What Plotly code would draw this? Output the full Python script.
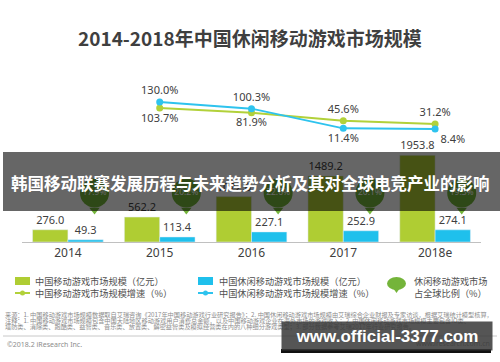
import plotly.graph_objects as go

# ---------------- data ----------------
years = ["2014", "2015", "2016", "2017", "2018e"]
mobile_market = [276.0, 562.2, 1022.6, 1489.2, 1953.8]          # 中国移动游戏市场规模（亿元）
casual_market = [49.3, 113.4, 227.1, 252.9, 274.1]              # 中国休闲移动游戏市场规模（亿元）
growth_years = ["2015", "2016", "2017", "2018e"]
mobile_growth = [103.7, 81.9, 45.6, 31.2]                        # 中国移动游戏市场规模增速（%）
casual_growth = [130.0, 100.3, 11.4, 8.4]                        # 中国休闲移动游戏市场规模增速（%）
global_share = [17.9, 20.2, 22.6, 20.1, 19.3]                    # 休闲移动游戏市场占全球比例（%）

W, H = 500, 362
GREEN = "#afcd33"
BLUE = "#1fc0ec"
LGREEN = "#b2d13a"
LBLUE = "#2ec3ee"
BUBBLE = "#74b43a"
TXT = "#404040"
FONT = "Noto Sans, Noto Sans CJK SC, sans-serif"
CJK = "Noto Sans CJK SC, Noto Sans, sans-serif"


def px(x):
    return x / W


def py(y):
    return 1 - y / H


idx = list(range(len(years)))
gidx = [years.index(y) for y in growth_years]
bubble_x = [i + 0.29 for i in idx]

fig = go.Figure()

fig.add_trace(go.Bar(
    x=idx, y=mobile_market, marker_color=GREEN, name="中国移动游戏市场规模（亿元）",
    text=[f"{v:.1f}" for v in mobile_market], textposition="outside",
    textfont=dict(size=11, color=TXT, family=FONT), constraintext="none",
    cliponaxis=False, offsetgroup="a"))
fig.add_trace(go.Bar(
    x=idx, y=casual_market, marker_color=BLUE, name="中国休闲移动游戏市场规模（亿元）",
    text=[f"{v:.1f}" for v in casual_market], textposition="outside",
    textfont=dict(size=11, color=TXT, family=FONT), constraintext="none",
    cliponaxis=False, offsetgroup="b"))

# share bubbles (constant vertical band on a helper axis)
fig.add_trace(go.Scatter(
    x=bubble_x, y=[32] * len(idx), yaxis="y3", mode="markers",
    marker=dict(symbol="triangle-down", size=9, color=BUBBLE),
    hoverinfo="skip", cliponaxis=False))
fig.add_trace(go.Scatter(
    x=bubble_x, y=[49] * len(idx), yaxis="y3", mode="markers+text",
    marker=dict(symbol="circle", size=29, color=BUBBLE),
    text=[f"{v:.1f}%" for v in global_share], textposition="middle center",
    textfont=dict(size=8.5, color="white", family=FONT), cliponaxis=False))

fig.add_trace(go.Scatter(
    x=gidx, y=mobile_growth, yaxis="y2", mode="lines+markers+text",
    line=dict(color=LGREEN, width=2), marker=dict(size=7, color=LGREEN),
    text=[f"{v:.1f}%" for v in mobile_growth],
    textposition=["bottom center", "bottom center", "top center", "top center"],
    textfont=dict(size=11, color=TXT, family=FONT), cliponaxis=False))
fig.add_trace(go.Scatter(
    x=gidx, y=casual_growth, yaxis="y2", mode="lines+markers+text",
    line=dict(color=LBLUE, width=2), marker=dict(size=7, color=LBLUE),
    text=[f"{v:.1f}%" for v in casual_growth],
    textposition=["top center", "top center", "bottom center", "bottom right"],
    textfont=dict(size=11, color=TXT, family=FONT), cliponaxis=False))

shapes = []
annotations = []


def note(x, y, text, font, xanchor="left", **kw):
    annotations.append(dict(x=px(x), y=py(y), xref="paper", yref="paper", showarrow=False,
                            xanchor=xanchor, yanchor=kw.pop("yanchor", "middle"),
                            text=text, font=font, **kw))


# title
note(250, 37, "<b>2014-2018年中国休闲移动游戏市场规模</b>",
     dict(size=19, color="#3f3f3f", family=CJK), xanchor="center")

# banner overlay
shapes.append(dict(type="rect", xref="paper", yref="paper", x0=px(3), x1=px(500),
                   y0=py(211), y1=py(152), fillcolor="rgba(0,0,0,0.6)", line=dict(width=0),
                   layer="above"))
note(250, 183, "<b>韩国移动联赛发展历程与未来趋势分析及其对全球电竞产业的影响</b>",
     dict(size=16.5, color="white", family=CJK), xanchor="center")

# legend (manual)
LF = dict(size=9.2, color="#505050", family=CJK)
shapes.append(dict(type="rect", xref="paper", yref="paper", x0=px(15), x1=px(30),
                   y0=py(285), y1=py(277), fillcolor=GREEN, line=dict(width=0)))
note(33, 281, "中国移动游戏市场规模（亿元）", LF)
shapes.append(dict(type="line", xref="paper", yref="paper", x0=px(15), x1=px(30),
                   y0=py(293), y1=py(293), line=dict(color=LGREEN, width=2)))
shapes.append(dict(type="circle", xref="paper", yref="paper", x0=px(20), x1=px(25),
                   y0=py(295.5), y1=py(290.5), fillcolor=LGREEN, line=dict(width=0)))
note(33, 293, "中国移动游戏市场规模增速（%）", LF)

shapes.append(dict(type="rect", xref="paper", yref="paper", x0=px(198), x1=px(213),
                   y0=py(285), y1=py(277), fillcolor=BLUE, line=dict(width=0)))
note(217, 281, "中国休闲移动游戏市场规模（亿元）", LF)
shapes.append(dict(type="line", xref="paper", yref="paper", x0=px(198), x1=px(213),
                   y0=py(293), y1=py(293), line=dict(color=LBLUE, width=2)))
shapes.append(dict(type="circle", xref="paper", yref="paper", x0=px(203), x1=px(208),
                   y0=py(295.5), y1=py(290.5), fillcolor=LBLUE, line=dict(width=0)))
note(217, 293, "中国休闲移动游戏市场规模增速（%）", LF)

shapes.append(dict(type="circle", xref="paper", yref="paper", x0=px(387), x1=px(406),
                   y0=py(290), y1=py(277), fillcolor=BUBBLE, line=dict(width=0)))
shapes.append(dict(type="path", xref="paper", yref="paper",
                   path=f"M {px(393)} {py(288)} L {px(400)} {py(288)} L {px(396.5)} {py(293)} Z",
                   fillcolor=BUBBLE, line=dict(width=0)))
note(412, 281, "休闲移动游戏市场", LF)
note(412, 293, "占全球比例（%）", LF)

# source notes
SF = dict(size=6.2, color="#8c8c8c", family=CJK)
notes = [
    "来源：1. 中国移动游戏市场规模数据取自艾瑞咨询《2017年中国移动游戏行业研究报告》；2. 中国休闲移动游戏市场规模由艾瑞综合企业财报及专家访谈，根据艾瑞统计模型核算，",
    "注释：1. 中国移动游戏市场规模包含中国大陆地区移动游戏用户消费总金额，以及中国移动游戏企业在海外市场的游戏收入；2. 中国休闲移动游戏市场规模主要包含IO类、",
    "塔防类、消除类、跑酷类、益智类、音乐类、放置类、解密益智类及模拟经营类在内的八种细分游戏类型；3. 部分数据参考艾瑞2017年行业研究报告。",
]
for k, t in enumerate(notes):
    note(3, 314 + 6 * k, t, SF)
shapes.append(dict(type="line", xref="paper", yref="paper", x0=px(3), x1=px(497),
                   y0=py(336), y1=py(336), line=dict(color="#c8c8c8", width=1)))
note(5, 344, "©2018.2 iResearch Inc.", dict(size=7, color="#8c8c8c", family=FONT))
note(492, 343, "www.iresearch.com.cn", dict(size=7, color="#8c8c8c", family=FONT),
     xanchor="right")

# watermark box
note(281, 321, "<b>www.official-3377.com</b>",
     dict(size=17, color="white", family="Liberation Sans, Arial, sans-serif"),
     yanchor="top", width=210, height=28, borderpad=0,
     bgcolor="rgba(55,55,55,0.85)", align="center")
shapes.append(dict(type="rect", xref="paper", yref="paper", x0=px(281), x1=px(491),
                   y0=py(353), y1=py(349), fillcolor="#111111", line=dict(width=0)))

fig.update_layout(
    width=W, height=H, margin=dict(l=0, r=0, t=0, b=0),
    paper_bgcolor="white", plot_bgcolor="white",
    showlegend=False, barmode="group", bargap=0.23, bargroupgap=0,
    xaxis=dict(domain=[px(22), px(481)], range=[-0.5, 4.5], tickvals=idx, ticktext=years,
               showgrid=False, zeroline=False, showline=True, linecolor="#c0c0c0",
               ticks="", tickfont=dict(size=12, color=TXT, family=FONT), fixedrange=True),
    yaxis=dict(domain=[py(242), py(60)], range=[0, 4100], visible=False, fixedrange=True),
    yaxis2=dict(overlaying="y", range=[-500.5, 319.4], visible=False, fixedrange=True),
    yaxis3=dict(overlaying="y", range=[0, 182], visible=False, fixedrange=True),
    shapes=shapes, annotations=annotations,
    font=dict(family=FONT),
)

fig.write_html(
    "out.html",
    config={"displayModeBar": False},
    post_script="document.body.style.margin='0';document.body.style.overflow='hidden';",
)
